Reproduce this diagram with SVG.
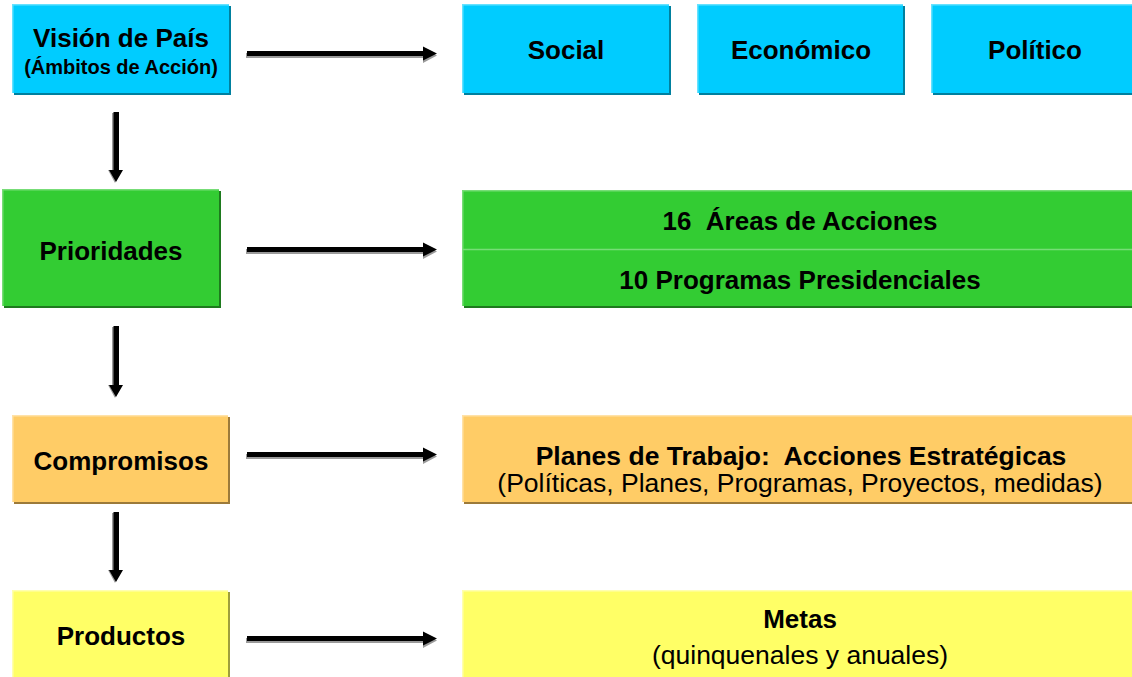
<svg xmlns="http://www.w3.org/2000/svg" width="1132" height="677" viewBox="0 0 1132 677">
<style>
.t{font-family:"Liberation Sans",Arial,sans-serif;font-weight:bold;font-size:26px;fill:#000;text-anchor:middle}
.s{font-size:20px}
.r{font-weight:normal;font-size:26.5px}
.cy{fill:#00CCFF}.cyd{fill:#00809F}.cyl{stroke:#66E2FF}
.gr{fill:#33CC33}.grd{fill:#1E7A1E}.grl{stroke:#77DD77}
.or{fill:#FFCC66}.ord{fill:#9C7A3A}.orl{stroke:#FFE2A8}
.ye{fill:#FFFF66}.yed{fill:#9E9E3C}.yel{stroke:#FFFFB0}
.edge{fill:none;stroke-width:1.5}
.ash{fill:#9A9A9A}.arw{fill:#000}
</style>
<rect width="1132" height="677" fill="#fff"/>
<g id="vision">
<rect x="14" y="6" width="217" height="89" class="cyd"/>
<rect x="12" y="4" width="217" height="89" class="cy"/>
<path d="M12.75 93V4.75H229" class="edge cyl"/>
<text x="121" y="47" class="t">Visión de País</text>
<text x="121" y="74" class="t s">(Ámbitos de Acción)</text>
</g>
<g id="social">
<rect x="464" y="6" width="207" height="89" class="cyd"/>
<rect x="462" y="4" width="207" height="89" class="cy"/>
<path d="M462.75 93V4.75H669" class="edge cyl"/>
<text x="566" y="59" class="t">Social</text>
</g>
<g id="economico">
<rect x="699" y="6" width="206" height="89" class="cyd"/>
<rect x="697" y="4" width="206" height="89" class="cy"/>
<path d="M697.75 93V4.75H903" class="edge cyl"/>
<text x="801" y="59" class="t">Económico</text>
</g>
<g id="politico">
<rect x="933" y="6" width="210" height="89" class="cyd"/>
<rect x="931" y="4" width="210" height="89" class="cy"/>
<path d="M931.75 93V4.75H1141" class="edge cyl"/>
<text x="1035" y="59" class="t">Político</text>
</g>
<g id="prioridades">
<rect x="4" y="191" width="217" height="117" class="grd"/>
<rect x="2" y="189" width="217" height="117" class="gr"/>
<path d="M2.75 306V189.75H219" class="edge grl"/>
<text x="111" y="260" class="t">Prioridades</text>
</g>
<g id="areas">
<rect x="464" y="192" width="680" height="116" class="grd"/>
<rect x="462" y="190" width="680" height="116" class="gr"/>
<path d="M462.75 306V190.75H1142M462 249.5H1142" class="edge grl"/>
<text x="800" y="230" class="t" xml:space="preserve">16  Áreas de Acciones</text>
<text x="800" y="289" class="t">10 Programas Presidenciales</text>
</g>
<g id="compromisos">
<rect x="14" y="417" width="216" height="87" class="ord"/>
<rect x="12" y="415" width="216" height="87" class="or"/>
<path d="M12.75 502V415.75H228" class="edge orl"/>
<text x="121" y="470" class="t">Compromisos</text>
</g>
<g id="planes">
<rect x="464" y="417" width="680" height="87" class="ord"/>
<rect x="462" y="415" width="680" height="87" class="or"/>
<path d="M462.75 502V415.75H1142" class="edge orl"/>
<text x="801" y="465" class="t" xml:space="preserve" style="font-size:26.5px">Planes de Trabajo:  Acciones Estratégicas</text>
<text x="800" y="492" class="t r">(Políticas, Planes, Programas, Proyectos, medidas)</text>
</g>
<g id="productos">
<rect x="14" y="592" width="216" height="90" class="yed"/>
<rect x="12" y="590" width="216" height="90" class="ye"/>
<path d="M12.75 680V590.75H228" class="edge yel"/>
<text x="121" y="645" class="t">Productos</text>
</g>
<g id="metas">
<rect x="464" y="592" width="680" height="90" class="yed"/>
<rect x="462" y="590" width="680" height="90" class="ye"/>
<path d="M462.75 680V590.75H1142" class="edge yel"/>
<text x="800" y="628" class="t">Metas</text>
<text x="800" y="664" class="t r">(quinquenales y anuales)</text>
</g>
<g id="connectors">
<g id="h1">
<path d="M246 53H423V48L437 55.5L423 63V58H246Z" class="ash"/>
<path d="M247 51H423V46.5L437 53.5L423 60.5V56H247Z" class="arw"/>
</g>
<g id="h2">
<path d="M246 249H423V244L437 251.5L423 259V254H246Z" class="ash"/>
<path d="M247 247H423V242.5L437 249.5L423 256.5V252H247Z" class="arw"/>
</g>
<g id="h3">
<path d="M246 454H423V449L437 456.5L423 464V459H246Z" class="ash"/>
<path d="M247 452H423V447.5L437 454.5L423 461.5V457H247Z" class="arw"/>
</g>
<g id="h4">
<path d="M246 638H423V633L437 640.5L423 648V643H246Z" class="ash"/>
<path d="M247 636H423V631.5L437 638.5L423 645.5V641H247Z" class="arw"/>
</g>
<g id="v1">
<path d="M112 113H117V170H121L115 183L108 170H112Z" class="ash"/>
<path d="M113.5 112H119V170H123L116 182L109 170H113.5Z" class="arw"/>
</g>
<g id="v2">
<path d="M112 327H117V385H121L115 398L108 385H112Z" class="ash"/>
<path d="M113.5 326H119V385H123L116 397L109 385H113.5Z" class="arw"/>
</g>
<g id="v3">
<path d="M112 513H117V570H121L115 583L108 570H112Z" class="ash"/>
<path d="M113.5 512H119V570H123L116 582L109 570H113.5Z" class="arw"/>
</g>
</g>
</svg>
